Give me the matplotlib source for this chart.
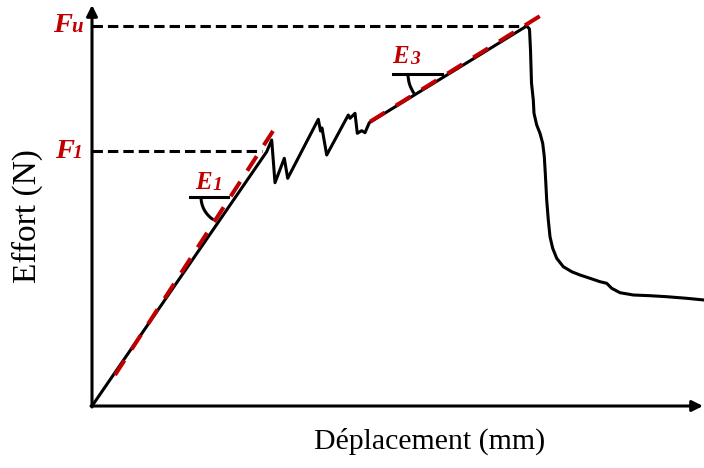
import matplotlib
matplotlib.use("Agg")
import matplotlib.pyplot as plt
from matplotlib.patches import Arc

plt.rcParams['lines.scale_dashes'] = False

# ---- data (arbitrary units) ----
disp = [0, 174.7, 179.7, 183, 192.3, 195.7, 226.3, 228.5, 230, 234.7, 256.3, 258, 263,
        265.3, 269.7, 273, 277.3,
        434.7, 437.5, 438.5, 439.5, 441.3, 442, 444.7, 448, 450.7, 452.3, 453.3, 454.7,
        456.3, 458, 460.7, 464.7, 471.3, 479.7, 488, 498, 508, 514.7, 519.7, 528,
        541.3, 558, 574.7, 594.7, 612]
effort = [0, 254.3, 266, 223.3, 247.7, 227.7, 286.7, 275, 278, 251, 291, 287.7, 292.7,
          272.7, 275.3, 273.3, 283.3,
          380, 377, 356, 323, 306, 292.7, 281, 272.7, 262.7, 249.3, 232.7, 206,
          186, 169.3, 157.7, 147.7, 139.3, 134.3, 131, 127.7, 124.3, 122.7, 117.7, 113.3,
          111, 110.3, 109.3, 107.7, 106]

F_u = 380
F_1 = 255
F_u_end = 434.7
F_1_end = 170

e1_x = [23, 181]
e1_y = [31, 275]
e3_x = [278, 448]
e3_y = [284.3, 390]

e1_h_x = [98, 136]
e1_h_y = [209, 209]
e3_h_x = [301, 350]
e3_h_y = [332, 332]

RED = '#C00000'
LW = 2.2
BIT = dict(family='Liberation Serif', weight='bold', style='italic', color=RED)

fig = plt.figure(figsize=(7.04, 4.68), dpi=100)
ax = fig.add_axes([92/704, 62/468, 612/704, 406/468])
ax.set_xlim(0, 612)
ax.set_ylim(0, 406)
for s in ax.spines.values():
    s.set_visible(False)
ax.set_xticks([])
ax.set_yticks([])

# axes with arrows
ax.annotate('', xy=(0, 401), xytext=(0, -1), annotation_clip=False,
            arrowprops=dict(arrowstyle='-|>', lw=LW, color='black',
                            mutation_scale=16, shrinkA=0, shrinkB=0))
ax.annotate('', xy=(611, 0), xytext=(-1, 0), annotation_clip=False,
            arrowprops=dict(arrowstyle='-|>', lw=LW, color='black',
                            mutation_scale=16, shrinkA=0, shrinkB=0))

# reference dashed lines
ax.plot([0, F_1_end], [F_1, F_1], color='black', lw=LW, dashes=(7.5, 3.6), clip_on=False)
ax.plot([0, F_u_end], [F_u, F_u], color='black', lw=LW, dashes=(7.5, 3.6), clip_on=False)

# curve
ax.plot(disp, effort, color='black', lw=LW, solid_joinstyle='round',
        solid_capstyle='round', clip_on=False)

# fitted slopes
ax.plot(e1_x, e1_y, color=RED, lw=2.9, linestyle=(0, (12.5, 9.4)), clip_on=False)
ax.plot(e3_x, e3_y, color=RED, lw=2.9, linestyle=(0, (12.5, 9.4)), clip_on=False)

# angle marks
ax.plot(e1_h_x, e1_h_y, color='black', lw=LW)
ax.plot(e3_h_x, e3_h_y, color='black', lw=LW)
ax.add_patch(Arc((136, 209), 54, 54, theta1=180, theta2=237, color='black', lw=LW))
ax.add_patch(Arc((350, 332), 68, 68, theta1=180, theta2=215, color='black', lw=LW))

# labels (main letter + subscript)
ax.text(-39, 374, 'F', fontsize=20.5, ha='left', va='baseline', clip_on=False, **BIT)
ax.text(-21, 374, 'u', fontsize=15, ha='left', va='baseline', clip_on=False, **BIT)
ax.text(-37, 248, 'F', fontsize=20.5, ha='left', va='baseline', clip_on=False, **BIT)
ax.text(-19, 248, '1', fontsize=14, ha='left', va='baseline', clip_on=False, **BIT)
ax.text(103, 217, 'E', fontsize=18, ha='left', va='baseline', **BIT)
ax.text(121, 216, '1', fontsize=14, ha='left', va='baseline', **BIT)
ax.text(299.7, 342.7, 'E', fontsize=18, ha='left', va='baseline', **BIT)
ax.text(318, 342, '3', fontsize=14, ha='left', va='baseline', **BIT)

fig.text(430/704, 1 - 449/468, 'Déplacement (mm)', family='Liberation Serif',
         fontsize=21.5, ha='center', va='baseline')
fig.text(27/704, 1 - 216.5/468, 'Effort (N)', family='Liberation Serif',
         fontsize=24, ha='center', va='center', rotation=90)

fig.savefig('out.png', dpi=100)
